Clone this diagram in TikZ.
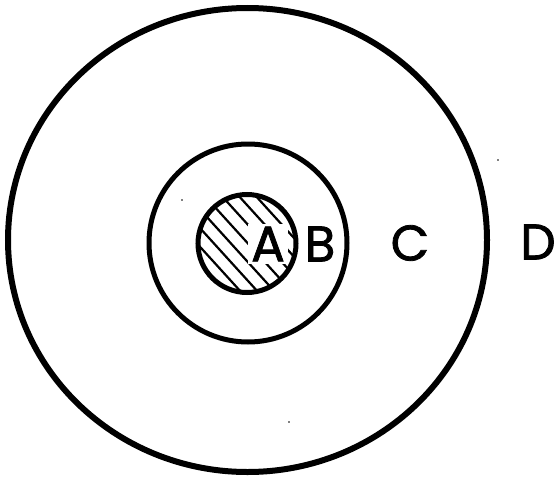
\documentclass[tikz,border=0pt]{standalone}
\usepackage{fontspec}
\setmainfont{Poppins}
\newfontfamily\labfont{Poppins}[FakeBold=1.6]
\usetikzlibrary{calc}
\begin{document}
\begin{tikzpicture}[x=1pt,y=-1pt,
  ring/.style={draw=black},
  hatch/.style={line width=2.2pt},
  lab/.style={font=\labfont\fontsize{50}{50}\selectfont, inner sep=1pt},
  speck/.style={fill=black}]
\useasboundingbox (0,0) rectangle (557,479);
\coordinate (o) at (247.5,240);
\coordinate (m) at (248,243);
\coordinate (i) at (247,243.5);
% outer ring
\draw[ring, line width=6pt] (o) ellipse [x radius=239.5, y radius=232];
% middle ring
\draw[ring, line width=5pt] (m) circle [radius=99];
% hatching inside inner circle
\begin{scope}
  \clip (i) circle [radius=49];
  \foreach \c in {-84,-67,...,100} {
    \draw[hatch] ($(i)+(\c,0)+(-80,-88)$) -- ($(i)+(\c,0)+(80,88)$);
  }
\end{scope}
% inner ring
\draw[ring, line width=5pt] (i) circle [radius=49];
\node[lab, fill=white, inner sep=3pt] (A) at (268,244) {A};
\node[lab] (B) at (320,244) {B};
\node[lab] (C) at (410,243) {C};
\node[lab] (D) at (538,242) {D};
\fill[speck] (182,200) circle [radius=0.8];
\fill[speck] (498,160) circle [radius=0.8];
\fill[speck] (289,422) circle [radius=0.8];
\end{tikzpicture}
\end{document}
